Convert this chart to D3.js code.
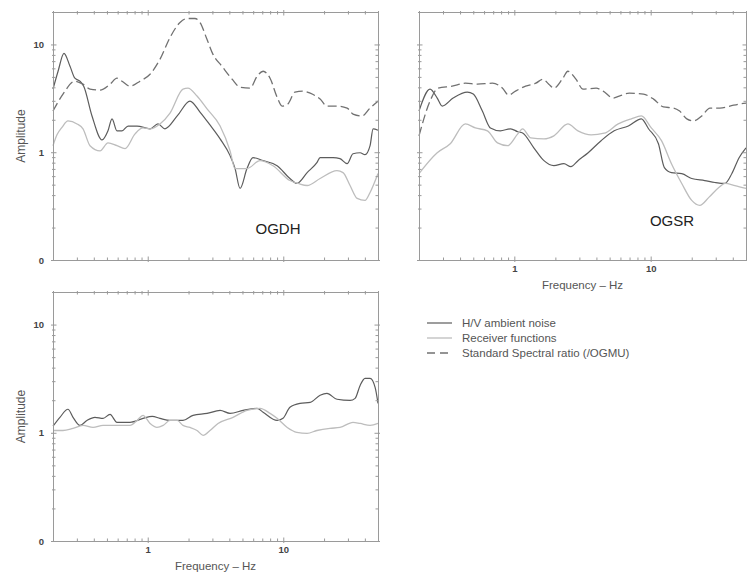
<!DOCTYPE html>
<html lang="en">
<head>
  <meta charset="UTF-8" />
  <title>H/V, receiver functions and spectral ratios</title>
  <style>
    body { margin: 0; padding: 0; background: #fff; }
    svg { display: block; font-family: "Liberation Sans", Arial, sans-serif; }
  </style>
</head>
<body>
  <svg id="chart"></svg>

  <script src="https://d3js.org/d3.v7.min.js"></script>
  <script>
    // series are [frequency Hz, amplitude] pairs
    const ogdhHV = [[0.2,3.85],[0.218,5.64],[0.241,8.26],[0.267,6.27],[0.29,4.86],[0.316,4.56],[0.337,4.1],[0.388,2.17],[0.46,1.3],[0.509,1.58],[0.545,2.04],[0.593,1.58],[0.646,1.58],[0.716,1.75],[0.834,1.75],[1.04,1.65],[1.19,1.83],[1.34,1.65],[1.65,2.17],[2.05,2.98],[2.43,2.36],[2.88,1.79],[3.42,1.33],[4.05,0.93],[4.41,0.705],[4.8,0.461],[5.4,0.705],[5.98,0.89],[7.1,0.835],[9.0,0.75],[11.2,0.57],[12.6,0.513],[15.0,0.647],[17.7,0.8],[18.7,0.89],[23.3,0.89],[26.2,0.871],[29.6,0.783],[32.7,0.968],[36.9,0.989],[40.1,0.948],[43.7,1.15],[46,1.65],[50,1.6]];
    const ogdhRF = [[0.2,1.15],[0.214,1.45],[0.233,1.7],[0.258,1.95],[0.301,1.83],[0.333,1.65],[0.375,1.15],[0.445,1.03],[0.509,1.22],[0.593,1.15],[0.68,1.08],[0.806,1.48],[0.923,1.68],[1.04,1.65],[1.23,1.83],[1.46,2.31],[1.82,3.85],[1.98,3.93],[2.31,3.32],[2.74,2.52],[3.42,1.75],[4.05,1.03],[4.41,0.705],[5.4,0.705],[6.74,0.835],[8.4,0.75],[11.2,0.546],[12.9,0.513],[15.0,0.491],[18.7,0.57],[24.9,0.675],[27.6,0.647],[31.1,0.491],[35.1,0.373],[40.1,0.357],[43.7,0.423],[50,0.634]];
    const ogdhSSR = [[0.2,2.41],[0.237,3.46],[0.29,4.56],[0.333,4.28],[0.375,3.85],[0.445,3.77],[0.527,4.28],[0.593,4.86],[0.646,4.56],[0.74,4.1],[0.877,4.56],[1.04,5.29],[1.23,7.27],[1.46,11.6],[1.73,16.0],[1.95,17.4],[2.23,17.4],[2.43,16.0],[2.74,11.1],[3.03,8.09],[3.53,6.27],[4.19,4.76],[4.8,4.01],[5.69,3.93],[6.41,5.07],[7.1,5.64],[7.99,4.86],[9.0,3.25],[9.8,2.68],[10.8,2.8],[12.2,3.61],[14.0,3.69],[15.8,3.53],[18.7,3.11],[21.0,2.68],[24.9,2.68],[29.6,2.57],[32.7,2.26],[38.1,2.17],[43.7,2.57],[50,2.98]];

    const ogsrHV = [[0.2,2.41],[0.241,3.85],[0.272,3.18],[0.296,2.68],[0.356,3.18],[0.452,3.61],[0.5,3.46],[0.583,2.41],[0.668,1.68],[0.79,1.58],[0.94,1.65],[1.06,1.55],[1.15,1.51],[1.39,1.1],[1.65,0.835],[1.95,0.75],[2.31,0.783],[2.6,0.735],[2.93,0.835],[3.48,0.99],[4.33,1.28],[5.4,1.58],[6.86,1.75],[8.55,2.04],[9.64,1.65],[11.4,1.2],[12.6,0.72],[14.2,0.647],[16.9,0.634],[20.0,0.57],[24.9,0.546],[29.6,0.524],[35.0,0.513],[39.4,0.634],[44.5,0.89],[50,1.1]];
    const ogsrRF = [[0.2,0.634],[0.272,0.989],[0.339,1.2],[0.437,1.83],[0.518,1.68],[0.635,1.58],[0.753,1.22],[0.892,1.15],[1.06,1.48],[1.15,1.65],[1.32,1.36],[1.65,1.33],[1.95,1.42],[2.47,1.83],[2.93,1.58],[3.66,1.45],[4.56,1.5],[5.78,1.83],[7.21,2.04],[8.55,2.17],[10.1,1.68],[12.0,1.28],[14.2,0.783],[16.9,0.513],[20.0,0.357],[22.9,0.321],[26.7,0.381],[31.6,0.471],[35.0,0.513],[41.5,0.491],[50,0.461]];
    const ogsrSSR = [[0.2,1.42],[0.241,2.98],[0.276,3.93],[0.35,4.1],[0.437,4.37],[0.536,4.28],[0.691,4.37],[0.82,3.93],[0.908,3.39],[1.02,3.69],[1.21,4.1],[1.44,4.37],[1.62,4.76],[1.79,4.28],[1.95,3.93],[2.27,4.86],[2.47,5.64],[2.83,4.76],[3.19,3.85],[3.98,3.93],[4.48,3.69],[5.31,3.18],[5.88,3.32],[6.97,3.53],[8.85,3.46],[10.5,3.11],[12.4,2.63],[14.7,2.57],[16.3,2.41],[18.4,2.04],[20.7,1.95],[23.7,2.17],[27.2,2.57],[32.2,2.57],[38.1,2.68],[44.5,2.8],[50,2.86]];

    const thirdHV = [[0.2,1.15],[0.225,1.39],[0.258,1.65],[0.281,1.39],[0.316,1.17],[0.356,1.3],[0.408,1.39],[0.468,1.36],[0.527,1.48],[0.593,1.25],[0.74,1.25],[0.923,1.36],[1.08,1.42],[1.23,1.36],[1.46,1.3],[1.82,1.3],[2.16,1.45],[2.74,1.51],[3.42,1.61],[4.05,1.51],[5.05,1.61],[6.41,1.68],[7.1,1.55],[9.0,1.3],[9.96,1.36],[11.2,1.72],[13.3,1.87],[15.8,1.91],[18.7,2.22],[21.0,2.31],[24.9,2.04],[31.1,1.99],[33.9,2.08],[36.9,2.74],[40.1,3.18],[43.7,3.18],[47.6,2.63],[50,1.87]];
    const thirdRF = [[0.2,1.05],[0.237,1.05],[0.281,1.1],[0.333,1.17],[0.395,1.12],[0.468,1.17],[0.593,1.17],[0.74,1.17],[0.834,1.3],[0.923,1.45],[1.04,1.22],[1.17,1.12],[1.3,1.17],[1.46,1.3],[1.65,1.3],[1.82,1.17],[2.05,1.12],[2.31,1.05],[2.56,0.948],[2.88,1.05],[3.3,1.22],[4.26,1.39],[5.4,1.61],[6.74,1.68],[7.99,1.51],[9.0,1.36],[10.7,1.12],[12.6,1.01],[15.0,0.989],[17.7,1.05],[22.1,1.1],[26.2,1.12],[32.7,1.25],[36.9,1.22],[43.7,1.17],[50,1.22]];

    const freqDomain = [0.2, 50];
    const ampDomain = [0.1, 20];
    const xTickVals = [1, 10];
    const xTickLabels = ["1", "10"];
    const yTickVals = [0.1, 1, 10];
    const yTickLabels = ["0", "1", "10"];

    const legendNames = ["H/V ambient noise", "Receiver functions", "Standard Spectral ratio (/OGMU)"];

    const W = 747, H = 573;
    const svg = d3.select("#chart").attr("width", W).attr("height", H);

    const styles = [
      { stroke: "#5c5c5c", dash: null, width: 1.2 },
      { stroke: "#bdbdbd", dash: null, width: 1.3 },
      { stroke: "#717171", dash: "9,4", width: 1.3 }
    ];

    const panels = [
      { left: 53, top: 12, right: 378, bottom: 260, name: "OGDH", nx: 278, ny: 234,
        series: [ogdhHV, ogdhRF, ogdhSSR], xLab: false, yLab: true },
      { left: 419, top: 12, right: 746, bottom: 260, name: "OGSR", nx: 672, ny: 226,
        series: [ogsrHV, ogsrRF, ogsrSSR], xLab: true, yLab: false },
      { left: 53, top: 292, right: 378, bottom: 541, name: "", nx: 0, ny: 0,
        series: [thirdHV, thirdRF], xLab: true, yLab: true }
    ];

    const isMajor = v => Math.abs(Math.log10(v) - Math.round(Math.log10(v))) < 1e-6;
    const len = v => isMajor(v) ? 3.5 : 2.5;

    panels.forEach(p => {
      const w = p.right - p.left, h = p.bottom - p.top;
      const x = d3.scaleLog().domain(freqDomain).range([0, w]);
      const y = d3.scaleLog().domain(ampDomain).range([h, 0]);
      const g = svg.append("g").attr("transform", `translate(${p.left},${p.top})`);

      const line = d3.line()
        .x(d => x(d[0]))
        .y(d => y(d[1]))
        .curve(d3.curveMonotoneX);

      p.series.forEach((s, i) => {
        g.append("path")
          .datum(s)
          .attr("fill", "none")
          .attr("stroke", styles[i].stroke)
          .attr("stroke-width", styles[i].width)
          .attr("stroke-dasharray", styles[i].dash)
          .attr("d", line);
      });

      const xfmt = v => { const k = xTickVals.indexOf(v); return p.xLab && k >= 0 ? xTickLabels[k] : ""; };
      const yfmt = v => { const k = yTickVals.findIndex(t => Math.abs(t - v) < 1e-9); return p.yLab && k >= 0 ? yTickLabels[k] : ""; };

      // ticks straddle the frame line, a little longer at decades
      const axes = [
        { ax: d3.axisBottom(x).tickValues(x.ticks()).tickFormat(xfmt).tickPadding(5), tr: `translate(0,${h})`, a1: "y1", a2: "y2", sign: -1 },
        { ax: d3.axisTop(x).tickValues(x.ticks()).tickFormat(""), tr: "translate(0,0)", a1: "y1", a2: "y2", sign: 1 },
        { ax: d3.axisLeft(y).tickValues(y.ticks()).tickFormat(yfmt).tickPadding(9), tr: "translate(0,0)", a1: "x1", a2: "x2", sign: 1 },
        { ax: d3.axisRight(y).tickValues(y.ticks()).tickFormat(""), tr: `translate(${w},0)`, a1: "x1", a2: "x2", sign: -1 }
      ];

      axes.forEach(a => {
        const ag = g.append("g")
          .attr("transform", a.tr)
          .call(a.ax.tickSizeInner(-3).tickSizeOuter(0));
        ag.select(".domain").attr("stroke", "#9a9a9a");
        ag.selectAll(".tick line")
          .attr("stroke", "#9a9a9a")
          .attr(a.a1, d => -a.sign * (len(d) - 1.5))
          .attr(a.a2, d => a.sign * len(d));
        ag.selectAll(".tick text")
          .attr("fill", "#444")
          .style("font-size", "9.5px")
          .style("font-weight", "bold")
          .style("font-family", "'Liberation Sans', Arial, sans-serif");
      });

      if (p.xLab) {
        svg.append("text")
          .attr("x", p.left + w / 2)
          .attr("y", p.bottom + 29)
          .attr("text-anchor", "middle")
          .attr("font-size", "11.5px")
          .attr("fill", "#555")
          .text("Frequency – Hz");
      }
      if (p.yLab) {
        svg.append("text")
          .attr("transform", `translate(25,${p.top + h / 2}) rotate(-90)`)
          .attr("text-anchor", "middle")
          .attr("font-size", "12px")
          .attr("fill", "#555")
          .text("Amplitude");
      }
      if (p.name) {
        svg.append("text")
          .attr("x", p.nx)
          .attr("y", p.ny)
          .attr("text-anchor", "middle")
          .attr("font-size", "15px")
          .attr("fill", "#222")
          .text(p.name);
      }
    });

    // legend
    const lg = svg.append("g").attr("transform", "translate(427,323)");
    legendNames.forEach((name, i) => {
      lg.append("line")
        .attr("x1", 0).attr("x2", 25)
        .attr("y1", i * 15).attr("y2", i * 15)
        .attr("stroke", styles[i].stroke)
        .attr("stroke-width", styles[i].width)
        .attr("stroke-dasharray", styles[i].dash ? "8,5" : null);
      lg.append("text")
        .attr("x", 35)
        .attr("y", i * 15 + 4)
        .attr("font-size", "11.5px")
        .attr("fill", "#555")
        .text(name);
    });
  </script>
</body>
</html>
